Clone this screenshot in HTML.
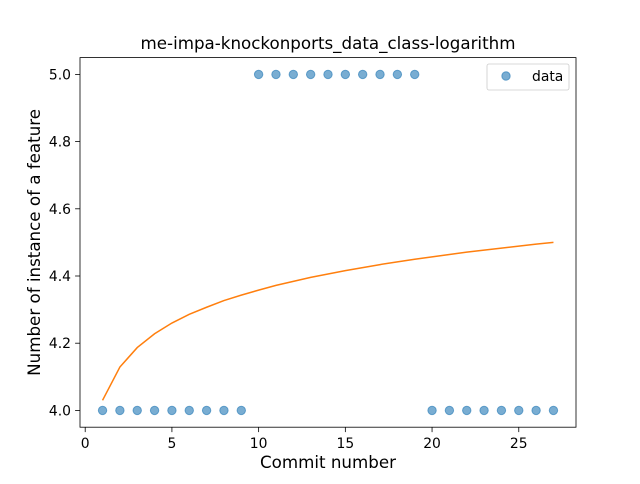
<!DOCTYPE html>
<html><head><meta charset="utf-8"><style>
body{margin:0;background:#fff;font-family:"DejaVu Sans","Liberation Sans",sans-serif}
svg text{font-family:"DejaVu Sans","Liberation Sans",sans-serif}
</style></head><body>
<svg id="chart" width="640" height="480" xmlns="http://www.w3.org/2000/svg">
<rect width="640" height="480" fill="#fff"/>
<g id="plot"></g>
</svg>
<script>
const xs=[1,2,3,4,5,6,7,8,9,10,11,12,13,14,15,16,17,18,19,20,21,22,23,24,25,26,27];
const dataY=[4,4,4,4,4,4,4,4,4,5,5,5,5,5,5,5,5,5,5,4,4,4,4,4,4,4,4];
const fitY=[4.030,4.129,4.187,4.228,4.260,4.286,4.307,4.327,4.343,4.358,4.372,4.384,4.396,4.406,4.416,4.425,4.434,4.442,4.450,4.457,4.464,4.471,4.477,4.483,4.489,4.495,4.500];
const xTicks=[0,5,10,15,20,25];
const yTicks=[4.0,4.2,4.4,4.6,4.8,5.0];
const L=80,R=576,T=57.6,B=427.2,x0=-0.3,x1=28.3,y0=3.95,y1=5.05;
const X=v=>L+(v-x0)/(x1-x0)*(R-L);
const Y=v=>B-(v-y0)/(y1-y0)*(B-T);
const NS="http://www.w3.org/2000/svg";
const g=document.getElementById('plot');
function mk(t,a,p){const e=document.createElementNS(NS,t);for(const k in a)e.setAttribute(k,a[k]);(p||g).appendChild(e);return e;}
xs.forEach((x,i)=>{
 const c=mk('circle',{cx:X(x),cy:Y(dataY[i]),r:4.2,fill:'#1f77b4','fill-opacity':0.6,stroke:'#1f77b4','stroke-opacity':0.6});
 
 
});
const ln=mk('polyline',{points:xs.map((x,i)=>X(x)+','+Y(fitY[i])).join(' '),fill:'none',stroke:'#ff7f0e','stroke-width':1.5});


const fr=mk('rect',{x:L,y:T,width:R-L,height:B-T,fill:'none',stroke:'#000','stroke-width':0.8});


xTicks.forEach(v=>{
 mk('line',{x1:X(v),x2:X(v),y1:B,y2:B+4.9,stroke:'#000','stroke-width':0.8});
 const t=mk('text',{x:X(v),y:B+21,'font-size':13.9,'text-anchor':'middle'});t.textContent=v;
 
 
});
yTicks.forEach(v=>{
 mk('line',{x1:L-4.9,x2:L,y1:Y(v),y2:Y(v),stroke:'#000','stroke-width':0.8});
 const t=mk('text',{x:L-9,y:Y(v)+5,'font-size':13.9,'text-anchor':'end'});t.textContent=v.toFixed(1);
 
 
});
const ti=mk('text',{x:(L+R)/2,y:49,'font-size':16.7,'text-anchor':'middle'});ti.textContent='me-impa-knockonports_data_class-logarithm';


const xl=mk('text',{x:(L+R)/2,y:468,'font-size':16.7,'text-anchor':'middle'});xl.textContent='Commit number';


const yl=mk('text',{x:0,y:0,'font-size':16.7,'text-anchor':'middle',transform:'translate(40,'+((T+B)/2)+') rotate(-90)'});yl.textContent='Number of instance of a feature';


const lg=mk('g',{});


mk('rect',{x:487,y:64,width:82,height:26,rx:2,fill:'#fff',stroke:'#ccc','stroke-width':0.8},lg);
mk('circle',{cx:506,cy:76,r:4.2,fill:'#1f77b4','fill-opacity':0.6,stroke:'#1f77b4','stroke-opacity':0.6},lg);
const lt=mk('text',{x:532,y:81,'font-size':13.9},lg);lt.textContent='data';


</script>
</body></html>
